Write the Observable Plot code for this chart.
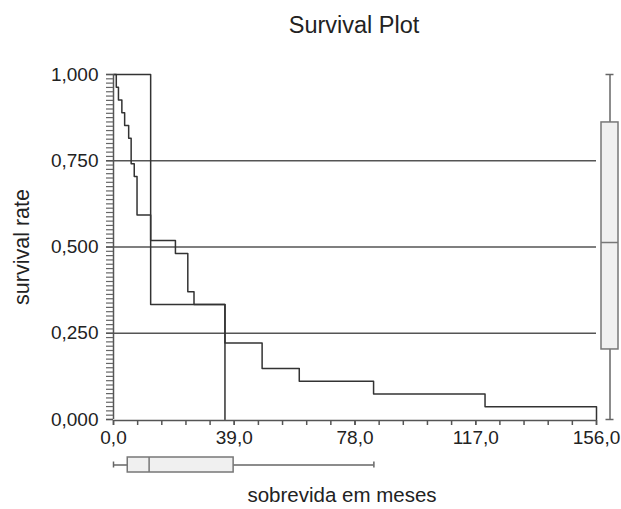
<!DOCTYPE html>
<html><head><meta charset="utf-8">
<script src="https://cdn.jsdelivr.net/npm/d3@7"></script>
<script src="https://cdn.jsdelivr.net/npm/@observablehq/plot@0.6"></script>
<style>
body{margin:0;background:#fff}
#chart{position:relative;width:621px;height:509px;font-family:"Liberation Sans",Arial,sans-serif}
#chart svg{position:absolute;overflow:visible}
</style>
</head><body><div id="chart"></div>
<script>
// Survival curve data (months, survival rate)
const timesMain = [0, 0.9, 1.6, 2.7, 3.6, 4.9, 5.7, 6.7, 7.6, 12, 20, 24, 26, 36, 48, 60, 84, 120, 156];
const survMain  = [1, 0.963, 0.926, 0.889, 0.852, 0.815, 0.741, 0.704, 0.593, 0.519, 0.481, 0.370, 0.333, 0.222, 0.148, 0.111, 0.074, 0.037, 0];
const timesSecond = [0, 12, 36];
const survSecond  = [1, 0.333, 0];
// Reference lines
const refLevels = [0.25, 0.5, 0.75];
// Tick labels
const yMajorTicks = [0, 0.25, 0.5, 0.75, 1];
const xMajorTicks = [0, 39, 78, 117, 156];
const yMinorTicks = d3.range(0, 81).map(i => i / 80);
const xMinorTicks = d3.range(0, 21).map(i => i * 7.8);
// Marginal box plot summaries
const boxTime = {min: 0, q1: 4.6, median: 11.5, q3: 38.8, max: 84.1};
const boxRate = {min: 0, q1: 0.203, median: 0.513, q3: 0.861, max: 1};
// Texts
const titleText = "Survival Plot";
const xLabel = "sobrevida em meses";
const yLabel = "survival rate";

const font = '"Liberation Sans", Arial, sans-serif';
const W = 621, H = 509, ML = 113, MR = 25, MT = 74, MB = 90;
const fmt3 = d => d.toFixed(3).replace(".", ",");
const fmt1 = d => d.toFixed(1).replace(".", ",");
const mainData = timesMain.map((t, i) => ({t, s: survMain[i]}));
const secondData = timesSecond.map((t, i) => ({t, s: survSecond[i]}));

const main = Plot.plot({
  width: W, height: H,
  marginLeft: ML, marginRight: MR, marginTop: MT, marginBottom: MB,
  style: {fontFamily: font, fontSize: "19px", color: "#222", background: "transparent"},
  x: {domain: [0, 156]},
  y: {domain: [0, 1]},
  marks: [
    Plot.ruleY(refLevels, {x1: 0, x2: 156, stroke: "#555", strokeWidth: 1.5}),
    Plot.line(secondData, {x: "t", y: "s", curve: "step-after", stroke: "#333", strokeWidth: 1.5}),
    Plot.line(mainData, {x: "t", y: "s", curve: "step-after", stroke: "#333", strokeWidth: 1.5}),
    Plot.ruleX([0], {y1: 0, y2: 1, stroke: "#555", strokeWidth: 1.5}),
    Plot.ruleY([0], {x1: 0, x2: 156, stroke: "#555", strokeWidth: 1.5, dy: 1}),
    Plot.axisY({ticks: yMinorTicks, tickSize: 7, tickFormat: () => "", stroke: "#666", strokeWidth: 1.2, label: null}),
    Plot.axisY({ticks: yMajorTicks, tickSize: 7, tickPadding: 8, tickFormat: fmt3, fontSize: 19, stroke: "#555", strokeWidth: 1.5, label: null}),
    Plot.axisX({ticks: xMinorTicks, tickSize: 5, tickFormat: () => "", stroke: "#555", strokeWidth: 1.5, dy: 1, label: null}),
    Plot.axisX({ticks: xMajorTicks, tickSize: 5, tickPadding: 5, tickFormat: fmt1, fontSize: 19, stroke: "#555", strokeWidth: 1.5, dy: 1, label: null}),
    Plot.text([titleText], {text: d => d, frameAnchor: "top", textAnchor: "middle", lineAnchor: "middle", dy: -49, dx: -1, fontSize: 23.5, fill: "#222"}),
    Plot.text([yLabel], {text: d => d, frameAnchor: "left", textAnchor: "middle", lineAnchor: "middle", dx: -91, rotate: -90, fontSize: 21.5, fill: "#222"}),
    Plot.text([xLabel], {text: d => d, frameAnchor: "bottom", textAnchor: "middle", lineAnchor: "middle", dy: 76, dx: -13, fontSize: 20.5, fill: "#222"})
  ]
});
main.style.left = "0px"; main.style.top = "0px";

const boxStroke = "#777", boxFill = "#f0f0f0";
const bottom = Plot.plot({
  width: W, height: 32,
  marginLeft: ML, marginRight: MR, marginTop: 0, marginBottom: 0,
  style: {background: "transparent"},
  x: {domain: [0, 156], axis: null},
  y: {domain: ["b"], axis: null, padding: 1/3},
  marks: [
    Plot.ruleY([boxTime], {x1: "min", x2: "max", y: () => "b", stroke: "#666", strokeWidth: 1.5}),
    Plot.tickX([boxTime], {x: "min", y: () => "b", stroke: "#666", strokeWidth: 1.5, insetTop: 4.5, insetBottom: 4.5}),
    Plot.tickX([boxTime], {x: "max", y: () => "b", stroke: "#666", strokeWidth: 1.5, insetTop: 4.5, insetBottom: 4.5}),
    Plot.barX([boxTime], {x1: "q1", x2: "q3", y: () => "b", fill: boxFill, stroke: boxStroke, strokeWidth: 1.5}),
    Plot.tickX([boxTime], {x: "median", y: () => "b", stroke: boxStroke, strokeWidth: 1.5})
  ]
});
bottom.style.left = "0px"; bottom.style.top = "449px";

const right = Plot.plot({
  width: 24, height: H,
  marginLeft: 0, marginRight: 0, marginTop: MT, marginBottom: MB,
  style: {background: "transparent"},
  y: {domain: [0, 1], axis: null},
  x: {domain: ["r"], axis: null, padding: 0.171},
  marks: [
    Plot.ruleX([boxRate], {y1: "min", y2: "max", x: () => "r", stroke: "#666", strokeWidth: 1.5}),
    Plot.tickY([boxRate], {y: "min", x: () => "r", stroke: "#666", strokeWidth: 1.5, insetLeft: 4.5, insetRight: 4.5}),
    Plot.tickY([boxRate], {y: "max", x: () => "r", stroke: "#666", strokeWidth: 1.5, insetLeft: 4.5, insetRight: 4.5}),
    Plot.barY([boxRate], {y1: "q1", y2: "q3", x: () => "r", fill: boxFill, stroke: boxStroke, strokeWidth: 1.5}),
    Plot.tickY([boxRate], {y: "median", x: () => "r", stroke: boxStroke, strokeWidth: 1.5})
  ]
});
right.style.left = "597px"; right.style.top = "0px";

const chart = document.getElementById("chart");
chart.appendChild(main);
chart.appendChild(bottom);
chart.appendChild(right);
</script>
</body></html>
